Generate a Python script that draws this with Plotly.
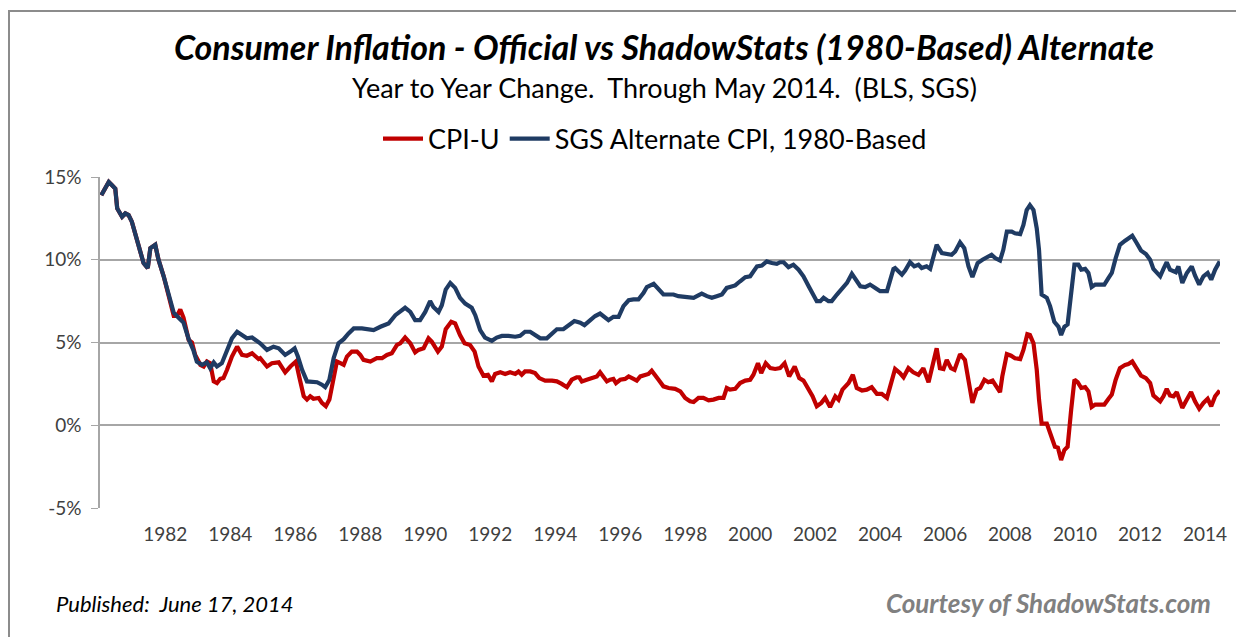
import plotly.graph_objects as go

# ---------------- data ----------------
cpi_year = [1980.03, 1980.13, 1980.26, 1980.36, 1980.46, 1980.52, 1980.67, 1980.77, 1980.87, 1980.97,
            1981.13, 1981.23, 1981.33, 1981.46, 1981.54, 1981.69, 1981.79, 1981.95, 1982.05, 1982.15,
            1982.26, 1982.36, 1982.46, 1982.56, 1982.72, 1982.82, 1982.92, 1983.08, 1983.18, 1983.28,
            1983.38, 1983.49, 1983.59, 1983.69, 1983.79, 1983.9, 1984.05, 1984.21, 1984.36, 1984.51,
            1984.67, 1984.87, 1984.92, 1985.13, 1985.28, 1985.49, 1985.69, 1985.85, 1986.02, 1986.12,
            1986.26, 1986.36, 1986.46, 1986.56, 1986.72, 1986.82, 1986.94, 1987.05, 1987.18, 1987.28,
            1987.39, 1987.49, 1987.59, 1987.74, 1987.9, 1988.0, 1988.1, 1988.31, 1988.51, 1988.67,
            1988.82, 1988.97, 1989.13, 1989.23, 1989.38, 1989.54, 1989.69, 1989.79, 1989.95, 1990.1,
            1990.2, 1990.31, 1990.39, 1990.51, 1990.63, 1990.8, 1990.92, 1991.07, 1991.21, 1991.38,
            1991.52, 1991.64, 1991.79, 1991.93, 1992.05, 1992.15, 1992.31, 1992.46, 1992.61, 1992.77,
            1992.87, 1992.97, 1993.07, 1993.23, 1993.38, 1993.51, 1993.69, 1993.9, 1994.05, 1994.2,
            1994.36, 1994.51, 1994.66, 1994.74, 1994.82, 1994.97, 1995.13, 1995.28, 1995.38, 1995.49,
            1995.59, 1995.69, 1995.79, 1995.87, 1996.0, 1996.15, 1996.26, 1996.41, 1996.51, 1996.62,
            1996.77, 1996.87, 1996.97, 1997.08, 1997.18, 1997.33, 1997.49, 1997.69, 1997.85, 1998.0,
            1998.15, 1998.26, 1998.41, 1998.56, 1998.72, 1998.87, 1999.03, 1999.18, 1999.28, 1999.38,
            1999.54, 1999.69, 1999.85, 2000.0, 2000.1, 2000.24, 2000.34, 2000.48, 2000.62, 2000.77,
            2000.92, 2001.06, 2001.2, 2001.37, 2001.51, 2001.64, 2001.8, 2001.92, 2002.05, 2002.19,
            2002.31, 2002.46, 2002.62, 2002.72, 2002.84, 2003.03, 2003.16, 2003.28, 2003.44, 2003.59,
            2003.74, 2003.9, 2004.05, 2004.21, 2004.31, 2004.41, 2004.46, 2004.61, 2004.72, 2004.87,
            2005.02, 2005.18, 2005.33, 2005.49, 2005.64, 2005.74, 2005.84, 2005.95, 2006.05, 2006.18,
            2006.29, 2006.46, 2006.61, 2006.72, 2006.84, 2006.97, 2007.08, 2007.21, 2007.33, 2007.46,
            2007.59, 2007.69, 2007.76, 2007.9, 2008.03, 2008.15, 2008.31, 2008.41, 2008.53, 2008.61,
            2008.72, 2008.82, 2008.89, 2008.97, 2009.13, 2009.23, 2009.38, 2009.47, 2009.57, 2009.67,
            2009.77, 2009.88, 2009.98, 2010.08, 2010.19, 2010.31, 2010.41, 2010.51, 2010.62, 2010.77,
            2010.9, 2011.03, 2011.13, 2011.25, 2011.38, 2011.54, 2011.64, 2011.76, 2011.9, 2012.03,
            2012.18, 2012.31, 2012.41, 2012.51, 2012.62, 2012.72, 2012.82, 2012.92, 2013.03, 2013.13,
            2013.2, 2013.3, 2013.44, 2013.57, 2013.69, 2013.82, 2013.95, 2014.08, 2014.19, 2014.31,
            2014.45]
cpi_value = [13.9, 14.3, 14.7, 14.5, 14.3, 13.1, 12.6, 12.8, 12.7, 12.3,
             11.2, 10.3, 9.8, 9.5, 10.7, 10.9, 10.0, 9.0, 8.3, 7.4,
             6.6, 6.6, 7.0, 6.5, 5.15, 5.0, 4.25, 3.65, 3.55, 3.85,
             3.75, 2.65, 2.55, 2.8, 2.85, 3.35, 4.15, 4.75, 4.25, 4.2,
             4.35, 4.0, 4.05, 3.55, 3.75, 3.8, 3.2, 3.55, 3.85, 2.95,
             1.75, 1.55, 1.75, 1.6, 1.65, 1.35, 1.15, 1.55, 2.95, 3.85,
             3.75, 3.65, 4.15, 4.45, 4.45, 4.25, 3.95, 3.85, 4.05, 4.05,
             4.25, 4.35, 4.85, 4.95, 5.3, 4.95, 4.4, 4.55, 4.65, 5.25,
             5.05, 4.65, 4.45, 4.75, 5.8, 6.25, 6.15, 5.45, 4.95, 4.85,
             4.45, 3.55, 3.0, 3.05, 2.65, 3.1, 3.2, 3.1, 3.2, 3.1,
             3.25, 3.05, 3.25, 3.25, 3.15, 2.85, 2.7, 2.7, 2.65, 2.5,
             2.3, 2.75, 2.9, 2.9, 2.65, 2.75, 2.85, 2.95, 3.2, 2.95,
             2.65, 2.75, 2.8, 2.55, 2.75, 2.8, 2.95, 2.8, 2.7, 2.95,
             3.05, 3.1, 3.3, 3.05, 2.75, 2.35, 2.25, 2.2, 2.05, 1.65,
             1.45, 1.4, 1.65, 1.65, 1.5, 1.55, 1.65, 1.65, 2.25, 2.15,
             2.2, 2.55, 2.7, 2.75, 3.05, 3.75, 3.15, 3.75, 3.45, 3.4,
             3.45, 3.75, 2.95, 3.55, 2.85, 2.7, 2.15, 1.75, 1.15, 1.35,
             1.65, 1.1, 1.75, 1.55, 2.15, 2.55, 3.05, 2.25, 2.1, 2.15,
             2.3, 1.9, 1.9, 1.65, 2.35, 3.1, 3.4, 3.15, 2.9, 3.45,
             3.2, 3.05, 3.45, 2.6, 3.75, 4.65, 3.45, 3.4, 3.95, 3.45,
             3.35, 4.3, 3.95, 2.55, 1.35, 2.15, 2.25, 2.75, 2.6, 2.7,
             2.35, 2.0, 2.95, 4.3, 4.2, 4.05, 4.0, 4.55, 5.5, 5.45,
             4.95, 3.35, 1.55, 0.1, 0.1, -0.5, -1.3, -1.35, -2.1, -1.5,
             -1.3, 0.95, 2.75, 2.6, 2.25, 2.3, 2.05, 1.1, 1.25, 1.25,
             1.25, 1.6, 1.85, 2.75, 3.45, 3.65, 3.7, 3.85, 3.4, 3.0,
             2.85, 2.55, 1.8, 1.65, 1.45, 1.75, 2.2, 1.8, 1.75, 2.0,
             1.6, 1.05, 1.55, 2.0, 1.45, 1.0, 1.35, 1.6, 1.15, 1.75,
             2.1]

sgs_year = [1980.03, 1980.13, 1980.26, 1980.36, 1980.46, 1980.52, 1980.67, 1980.77, 1980.87, 1980.97,
            1981.13, 1981.23, 1981.33, 1981.46, 1981.54, 1981.69, 1981.79, 1981.95, 1982.05, 1982.15,
            1982.26, 1982.41, 1982.56, 1982.72, 1982.87, 1982.97, 1983.13, 1983.28, 1983.38, 1983.49,
            1983.59, 1983.74, 1983.9, 1984.05, 1984.21, 1984.36, 1984.51, 1984.67, 1984.87, 1984.92,
            1985.13, 1985.33, 1985.49, 1985.69, 1985.85, 1985.98, 1986.08, 1986.21, 1986.36, 1986.51,
            1986.67, 1986.82, 1986.92, 1987.05, 1987.18, 1987.33, 1987.49, 1987.64, 1987.8, 1988.05,
            1988.26, 1988.41, 1988.62, 1988.87, 1989.08, 1989.23, 1989.38, 1989.54, 1989.69, 1989.84,
            1990.0, 1990.15, 1990.25, 1990.41, 1990.51, 1990.63, 1990.77, 1990.92, 1991.07, 1991.23,
            1991.43, 1991.54, 1991.69, 1991.84, 1992.05, 1992.2, 1992.36, 1992.56, 1992.77, 1992.92,
            1993.07, 1993.23, 1993.33, 1993.54, 1993.74, 1993.9, 1994.05, 1994.25, 1994.41, 1994.59,
            1994.77, 1994.9, 1995.08, 1995.23, 1995.38, 1995.54, 1995.64, 1995.79, 1995.95, 1996.1,
            1996.26, 1996.41, 1996.56, 1996.72, 1996.82, 1997.03, 1997.18, 1997.33, 1997.49, 1997.64,
            1997.79, 1997.95, 1998.1, 1998.26, 1998.36, 1998.51, 1998.67, 1998.82, 1998.97, 1999.13,
            1999.28, 1999.44, 1999.54, 1999.69, 1999.85, 2000.0, 2000.1, 2000.21, 2000.36, 2000.51,
            2000.67, 2000.82, 2000.92, 2001.03, 2001.18, 2001.33, 2001.49, 2001.64, 2001.8, 2001.95,
            2002.05, 2002.16, 2002.26, 2002.41, 2002.51, 2002.67, 2002.82, 2002.98, 2003.13, 2003.23,
            2003.39, 2003.54, 2003.69, 2003.85, 2004.0, 2004.21, 2004.31, 2004.41, 2004.46, 2004.56,
            2004.67, 2004.77, 2004.92, 2005.05, 2005.18, 2005.28, 2005.43, 2005.54, 2005.64, 2005.74,
            2005.9, 2006.05, 2006.2, 2006.31, 2006.46, 2006.59, 2006.72, 2006.84, 2007.0, 2007.15,
            2007.28, 2007.43, 2007.54, 2007.69, 2007.79, 2007.9, 2008.05, 2008.15, 2008.31, 2008.41,
            2008.51, 2008.61, 2008.72, 2008.82, 2008.89, 2008.97, 2009.13, 2009.23, 2009.36, 2009.49,
            2009.57, 2009.67, 2009.77, 2009.88, 2009.98, 2010.1, 2010.19, 2010.31, 2010.41, 2010.51,
            2010.62, 2010.77, 2010.9, 2011.03, 2011.13, 2011.25, 2011.38, 2011.54, 2011.66, 2011.76,
            2011.9, 2012.03, 2012.18, 2012.31, 2012.41, 2012.51, 2012.62, 2012.72, 2012.82, 2012.92,
            2013.03, 2013.1, 2013.18, 2013.3, 2013.44, 2013.59, 2013.69, 2013.82, 2013.95, 2014.08,
            2014.19, 2014.31, 2014.45]
sgs_value = [13.9, 14.3, 14.7, 14.5, 14.3, 13.1, 12.6, 12.8, 12.7, 12.3,
             11.2, 10.3, 9.8, 9.5, 10.7, 10.9, 10.0, 9.0, 8.3, 7.4,
             6.8, 6.5, 6.2, 5.2, 4.5, 3.85, 3.65, 3.8, 3.45, 3.8,
             3.55, 3.75, 4.45, 5.25, 5.65, 5.45, 5.25, 5.3, 5.05, 4.95,
             4.55, 4.75, 4.65, 4.25, 4.45, 4.65, 4.15, 3.35, 2.65, 2.6,
             2.6, 2.45, 2.3, 2.75, 4.05, 4.95, 5.2, 5.55, 5.85, 5.85,
             5.8, 5.75, 5.95, 6.15, 6.65, 6.85, 7.1, 6.85, 6.35, 6.35,
             6.85, 7.5, 7.15, 6.85, 7.25, 8.2, 8.6, 8.3, 7.7, 7.35,
             7.1, 6.65, 5.75, 5.3, 5.1, 5.3, 5.4, 5.4, 5.35, 5.4,
             5.65, 5.65, 5.5, 5.25, 5.25, 5.5, 5.8, 5.8, 6.05, 6.3,
             6.2, 6.05, 6.35, 6.6, 6.75, 6.45, 6.35, 6.55, 6.55, 7.2,
             7.55, 7.6, 7.6, 8.0, 8.35, 8.55, 8.2, 7.9, 7.9, 7.9,
             7.8, 7.75, 7.75, 7.7, 7.8, 7.95, 7.8, 7.7, 7.8, 7.9,
             8.3, 8.4, 8.45, 8.7, 8.95, 9.0, 9.3, 9.6, 9.65, 9.9,
             9.8, 9.75, 9.85, 9.85, 9.55, 9.7, 9.4, 9.0, 8.4, 7.9,
             7.5, 7.5, 7.7, 7.5, 7.5, 7.9, 8.2, 8.6, 9.15, 8.9,
             8.4, 8.35, 8.5, 8.3, 8.1, 8.1, 8.7, 9.45, 9.5, 9.3,
             9.1, 9.35, 9.85, 9.6, 9.7, 9.5, 9.6, 9.45, 10.1, 10.9,
             10.4, 10.35, 10.3, 10.5, 11.05, 10.7, 9.6, 8.95, 9.8, 10.0,
             10.15, 10.3, 10.1, 9.95, 10.6, 11.7, 11.7, 11.6, 11.55, 12.1,
             13.0, 13.3, 13.0, 11.9, 10.6, 7.9, 7.7, 7.2, 6.25, 5.95,
             5.45, 5.95, 6.1, 8.0, 9.7, 9.7, 9.4, 9.45, 9.2, 8.35,
             8.5, 8.5, 8.5, 8.9, 9.2, 10.1, 10.9, 11.15, 11.3, 11.45,
             11.0, 10.55, 10.35, 10.0, 9.45, 9.2, 9.0, 9.45, 9.85, 9.4,
             9.3, 9.25, 9.6, 8.6, 9.2, 9.6, 9.05, 8.5, 9.0, 9.2,
             8.8, 9.4, 9.9]

year_ticks = list(range(1982, 2015, 2))
y_ticks = [-5, 0, 5, 10, 15]
y_tick_text = ["-5%", "0%", "5%", "10%", "15%"]

# ---------------- layout geometry ----------------
# the page places the figure 8 px in from the top-left corner (body margin)
OFF = 8
W, H = 1244 - OFF, 637 - OFF
PLOT_L, PLOT_R, PLOT_T, PLOT_B = 100, 1220, 177, 508   # page pixels
ML, MR = PLOT_L - OFF, (W + OFF) - PLOT_R
MT, MB = PLOT_T - OFF, (H + OFF) - PLOT_B
PW, PH = PLOT_R - PLOT_L, PLOT_B - PLOT_T


def px_x(px):
    return (px - PLOT_L) / PW


def px_y(py):
    return (PLOT_B - py) / PH


RED = "#C00000"
BLUE = "#1F3B63"
GRID = "#A6A6A6"
FONT = "Lato, 'Open Sans', sans-serif"

fig = go.Figure()
fig.add_trace(go.Scatter(x=cpi_year, y=cpi_value, name="CPI-U", mode="lines",
                         legendgroup="cpi", line=dict(color=RED, width=4.2)))
fig.add_trace(go.Scatter(x=sgs_year, y=sgs_value, name="SGS Alternate CPI, 1980-Based",
                         mode="lines", legendgroup="sgs", line=dict(color=BLUE, width=4.2)))

x_range = [1979.99, 2014.46]

fig.update_layout(
    width=W, height=H,
    margin=dict(l=ML, r=MR, t=MT, b=MB),
    paper_bgcolor="white", plot_bgcolor="white",
    font=dict(family=FONT, color="#404040"),
    showlegend=True,
    legend=dict(orientation="h", x=px_x(655), xanchor="center", y=px_y(139), yanchor="middle",
                font=dict(size=27, color="#000000"), itemwidth=40, traceorder="grouped",
                tracegroupgap=28, bgcolor="rgba(0,0,0,0)"),
    xaxis=dict(range=x_range, tickmode="array", tickvals=year_ticks,
               ticktext=[str(y) for y in year_ticks], showgrid=False, showline=False,
               zeroline=False, ticks="", tickfont=dict(size=19, color="#404040"),
               ticklabelstandoff=13),
    xaxis2=dict(range=x_range, overlaying="x", anchor="free", position=0.25, side="bottom",
                tickmode="array", tickvals=year_ticks, showticklabels=False,
                showgrid=False, zeroline=False, showline=True, linecolor=GRID, linewidth=1.5,
                ticks="outside", ticklen=7, tickcolor=GRID, tickwidth=1),
    yaxis=dict(range=[-5, 15], tickmode="array", tickvals=y_ticks, ticktext=y_tick_text,
               showgrid=True, gridcolor=GRID, gridwidth=1.5, zeroline=False,
               showline=True, linecolor=GRID, linewidth=1.5,
               ticks="outside", ticklen=7, tickcolor=GRID, ticklabelstandoff=6,
               tickfont=dict(size=19, color="#404040")),
)

annotations = [
    dict(text="<b><i>Consumer Inflation - Official vs ShadowStats (1980-Based) Alternate</i></b>",
         x=px_x(664), y=px_y(47), xref="paper", yref="paper", xanchor="center", yanchor="middle",
         showarrow=False, font=dict(size=34, color="#000000", family=FONT)),
    dict(text="Year to Year Change.&nbsp; Through May 2014.&nbsp; (BLS, SGS)",
         x=px_x(664), y=px_y(87), xref="paper", yref="paper", xanchor="center", yanchor="middle",
         showarrow=False, font=dict(size=27, color="#000000", family=FONT)),
    dict(text="<i>Published:&nbsp; June 17, 2014</i>",
         x=px_x(54), y=px_y(603), xref="paper", yref="paper", xanchor="left", yanchor="middle",
         showarrow=False, font=dict(size=22, color="#000000", family=FONT)),
    dict(text="<b><i>Courtesy of ShadowStats.com</i></b>",
         x=px_x(1213), y=px_y(603), xref="paper", yref="paper", xanchor="right", yanchor="middle",
         showarrow=False, font=dict(size=26, color="#808080", family=FONT)),
]
fig.update_layout(annotations=annotations)

# outer chart-area border (only top and left edges fall inside the image)
fig.add_shape(type="rect", xref="paper", yref="paper",
              x0=px_x(9), x1=px_x(1244 + 40), y0=px_y(637 + 40), y1=px_y(11),
              line=dict(color="#8C8C8C", width=2), fillcolor="rgba(0,0,0,0)", layer="below")

fig.write_html("out.html")
